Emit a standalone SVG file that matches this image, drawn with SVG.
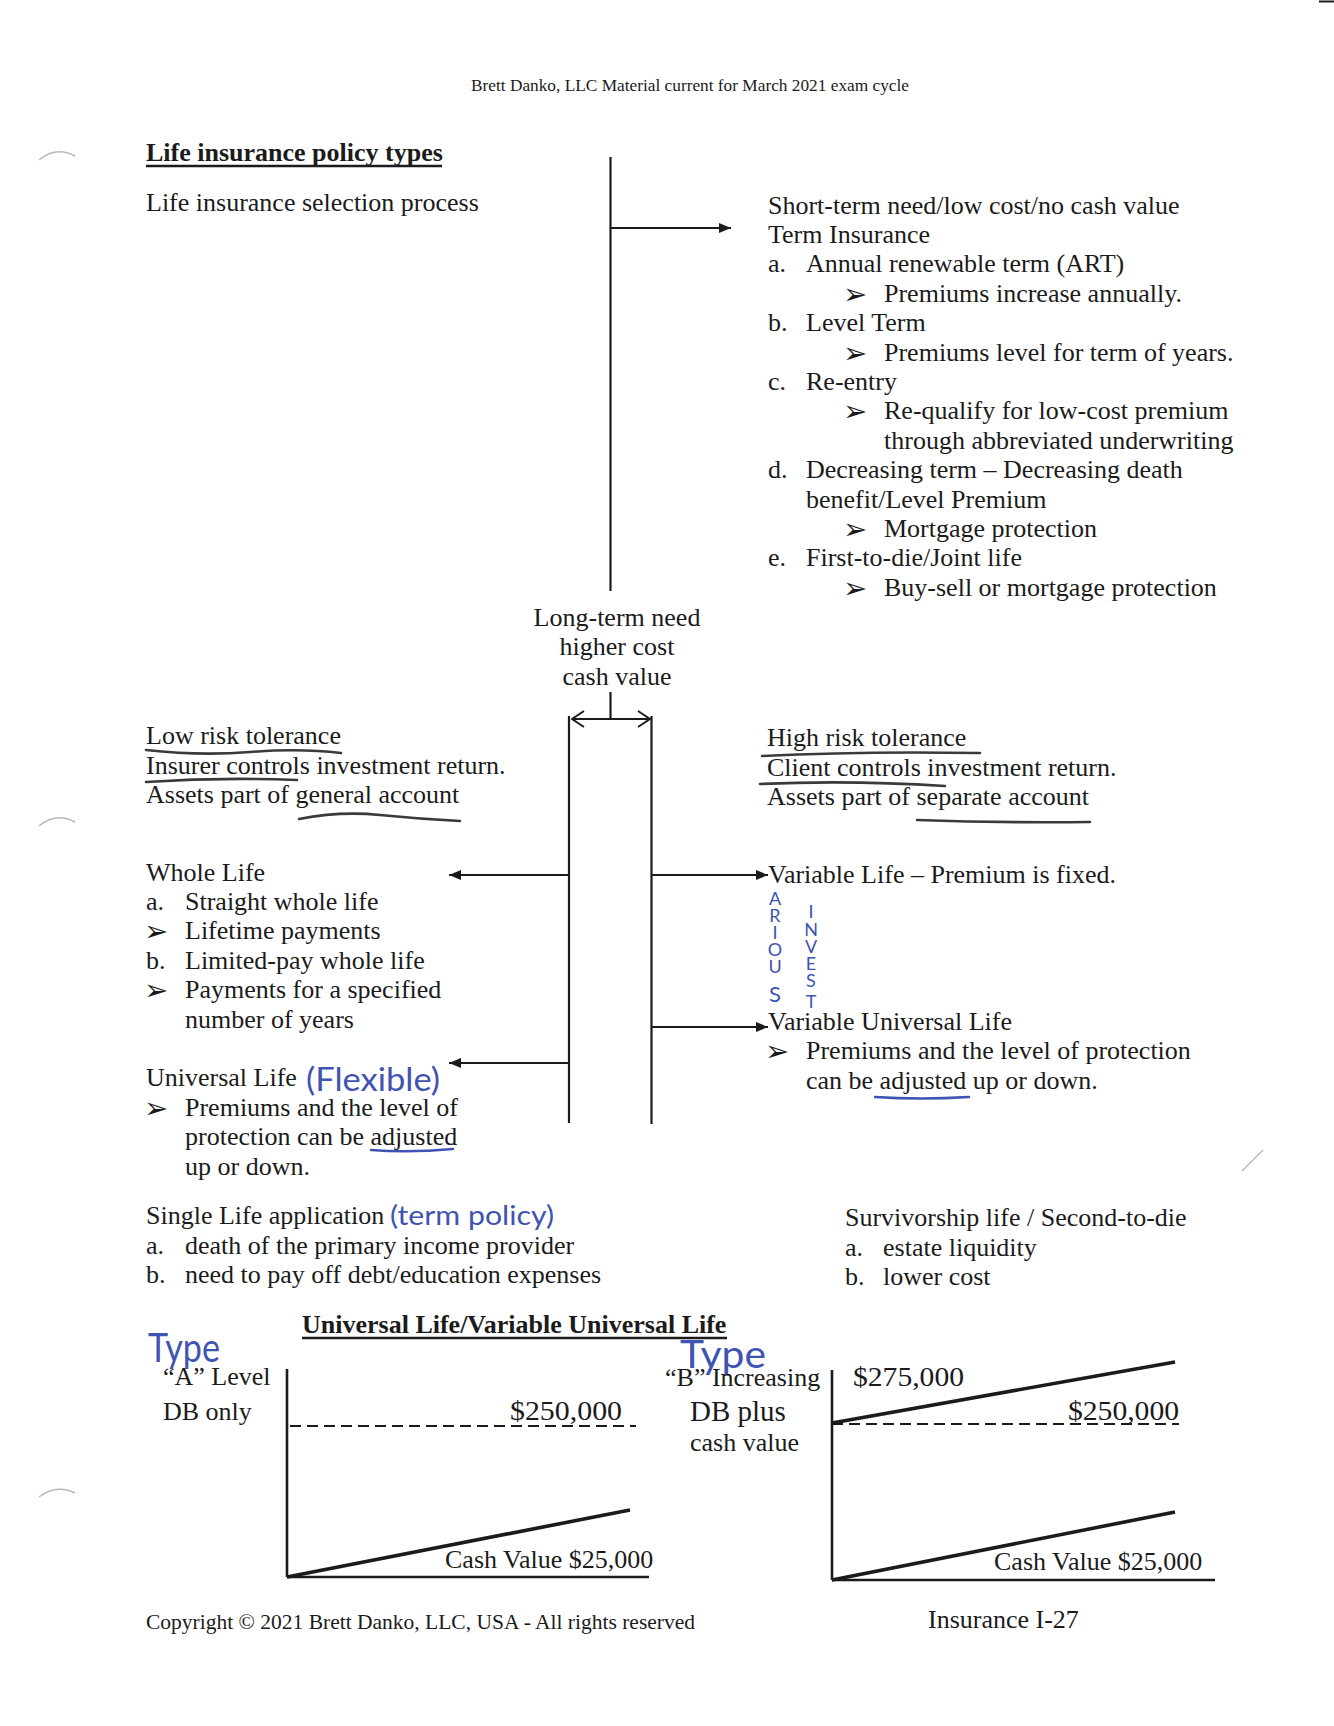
<svg xmlns="http://www.w3.org/2000/svg" width="1334" height="1726" viewBox="0 0 1334 1726">
<defs>
<style>
.t{font-family:"Liberation Serif","Times New Roman",serif;font-size:26px;fill:#1b1b1b}
.b{font-weight:bold}
.ar{font-family:"DejaVu Sans",sans-serif;font-size:29px;fill:#1b1b1b}
.hw{font-family:"Lato","DejaVu Sans",sans-serif;font-weight:400;fill:#3f53b3}
.ln{stroke:#1b1b1b;stroke-width:2.2;fill:none}
.ax{stroke:#1b1b1b;stroke-width:2.6;fill:none}
.dl{stroke:#1b1b1b;stroke-width:3.6;fill:none}
.ds{stroke:#1b1b1b;stroke-width:1.8;fill:none;stroke-dasharray:11 6}
.ul{stroke:#3a3a3a;stroke-width:2.6;fill:none;stroke-linecap:round}
.bu{stroke:#3f53b3;stroke-width:2.4;fill:none;stroke-linecap:round}
.mk{stroke:#b8b8b8;stroke-width:1.5;fill:none}
</style>
<marker id="tri" viewBox="0 0 12 10" refX="12" refY="5" markerWidth="12" markerHeight="10" markerUnits="userSpaceOnUse" orient="auto">
<path d="M0,0 L12,5 L0,10 z" fill="#1b1b1b"/>
</marker>
<marker id="chev" viewBox="0 0 14 18" refX="13" refY="9" markerWidth="14" markerHeight="18" markerUnits="userSpaceOnUse" orient="auto-start-reverse">
<path d="M1,1 L13,9 L1,17" fill="none" stroke="#1b1b1b" stroke-width="2"/>
</marker>
</defs>
<rect width="1334" height="1726" fill="#ffffff"/>

<g id="scan-marks">
<path class="mk" d="M39,160 Q56,146 75,156"/>
<path class="mk" d="M39,826 Q56,812 75,822"/>
<path class="mk" d="M39,1497 Q56,1484 75,1493"/>
<path class="mk" d="M1242,1171 L1263,1150"/>
<line x1="1319" y1="1.5" x2="1334" y2="1.5" stroke="#1b1b1b" stroke-width="2"/>
</g>

<g id="header">
<text class="t" x="471" y="91" style="font-size:16.5px" textLength="438" lengthAdjust="spacingAndGlyphs">Brett Danko, LLC Material current for March 2021 exam cycle</text>
</g>

<g id="title">
<text class="t b" x="146" y="161">Life insurance policy types</text>
<line x1="146" y1="166" x2="442" y2="166" stroke="#1b1b1b" stroke-width="2.4"/>
</g>

<g id="selection-process">
<text class="t" x="146" y="211">Life insurance selection process</text>
</g>

<g id="term-insurance">
<text class="t" x="768" y="213.5">Short-term need/low cost/no cash value</text>
<text class="t" x="768" y="243">Term Insurance</text>
<text class="t" x="768" y="272.3">a.</text><text class="t" x="806" y="272.3">Annual renewable term (ART)</text>
<text class="ar" x="843" y="303.7">➢</text><text class="t" x="884" y="301.7">Premiums increase annually.</text>
<text class="t" x="768" y="331">b.</text><text class="t" x="806" y="331">Level Term</text>
<text class="ar" x="843" y="362.5">➢</text><text class="t" x="884" y="360.5">Premiums level for term of years.</text>
<text class="t" x="768" y="389.9">c.</text><text class="t" x="806" y="389.9">Re-entry</text>
<text class="ar" x="843" y="421.3">➢</text><text class="t" x="884" y="419.3">Re-qualify for low-cost premium</text>
<text class="t" x="884" y="448.7">through abbreviated underwriting</text>
<text class="t" x="768" y="478.1">d.</text><text class="t" x="806" y="478.1">Decreasing term – Decreasing death</text>
<text class="t" x="806" y="507.5">benefit/Level Premium</text>
<text class="ar" x="843" y="538.9">➢</text><text class="t" x="884" y="536.9">Mortgage protection</text>
<text class="t" x="768" y="566.3">e.</text><text class="t" x="806" y="566.3">First-to-die/Joint life</text>
<text class="ar" x="843" y="597.7">➢</text><text class="t" x="884" y="595.7">Buy-sell or mortgage protection</text>
</g>

<g id="long-term">
<text class="t" x="617" y="626" text-anchor="middle">Long-term need</text>
<text class="t" x="617" y="655" text-anchor="middle">higher cost</text>
<text class="t" x="617" y="684.5" text-anchor="middle">cash value</text>
</g>

<g id="low-risk">
<text class="t" x="146" y="744">Low risk tolerance</text>
<text class="t" x="146" y="773.5">Insurer controls investment return.</text>
<text class="t" x="146" y="803">Assets part of general account</text>
<path class="ul" d="M146,750 Q200,756 250,752 T341,753"/>
<path class="ul" d="M146,782 Q220,777 297,780"/>
<path class="ul" d="M299,819 Q340,811 380,815 T460,821"/>
</g>

<g id="high-risk">
<text class="t" x="767" y="746">High risk tolerance</text>
<text class="t" x="767" y="775.5">Client controls investment return.</text>
<text class="t" x="767" y="805">Assets part of separate account</text>
<path class="ul" d="M762,756 Q860,751 980,753"/>
<path class="ul" d="M760,784 Q850,780 945,786"/>
<path class="ul" d="M917,820 Q1000,823 1090,822"/>
</g>

<g id="whole-life">
<text class="t" x="146" y="880.5">Whole Life</text>
<text class="t" x="146" y="910">a.</text><text class="t" x="185" y="910">Straight whole life</text>
<text class="ar" x="144" y="941.3">➢</text><text class="t" x="185" y="939.3">Lifetime payments</text>
<text class="t" x="146" y="968.6">b.</text><text class="t" x="185" y="968.6">Limited-pay whole life</text>
<text class="ar" x="144" y="1000">➢</text><text class="t" x="185" y="998">Payments for a specified</text>
<text class="t" x="185" y="1027.5">number of years</text>
</g>

<g id="universal-life">
<text class="t" x="146" y="1086">Universal Life</text>
<text class="hw" x="306" y="1091" style="font-size:33px" textLength="134" lengthAdjust="spacingAndGlyphs">(Flexible)</text>
<text class="ar" x="144" y="1117.5">➢</text><text class="t" x="185" y="1115.5">Premiums and the level of</text>
<text class="t" x="185" y="1145">protection can be adjusted</text>
<text class="t" x="185" y="1174.5">up or down.</text>
<path class="bu" d="M371,1150 Q410,1153 453,1149"/>
</g>

<g id="variable-life">
<text class="t" x="768" y="883">Variable Life – Premium is fixed.</text>
<g class="hw" style="font-size:18px" text-anchor="middle">
<text x="775" y="905">A</text>
<text x="775" y="922">R</text>
<text x="775" y="939">I</text>
<text x="775" y="956">O</text>
<text x="775" y="973">U</text>
<text x="775" y="1002" style="font-size:22px">S</text>
<text x="811" y="918">I</text>
<text x="811" y="936">N</text>
<text x="811" y="953">V</text>
<text x="811" y="970">E</text>
<text x="811" y="987">S</text>
<text x="811" y="1008">T</text>
</g>
</g>

<g id="variable-universal-life">
<text class="t" x="768" y="1029.5">Variable Universal Life</text>
<text class="ar" x="765" y="1061">➢</text><text class="t" x="806" y="1059">Premiums and the level of protection</text>
<text class="t" x="806" y="1088.5">can be adjusted up or down.</text>
<path class="bu" d="M875,1097 Q920,1100 969,1097"/>
</g>

<g id="single-life">
<text class="t" x="146" y="1224">Single Life application</text>
<text class="hw" x="390" y="1225" style="font-size:27px" textLength="164" lengthAdjust="spacingAndGlyphs">(term policy)</text>
<text class="t" x="146" y="1253.5">a.</text><text class="t" x="185" y="1253.5">death of the primary income provider</text>
<text class="t" x="146" y="1283">b.</text><text class="t" x="185" y="1283">need to pay off debt/education expenses</text>
</g>

<g id="survivorship">
<text class="t" x="845" y="1226">Survivorship life / Second-to-die</text>
<text class="t" x="845" y="1255.5">a.</text><text class="t" x="883" y="1255.5">estate liquidity</text>
<text class="t" x="845" y="1285">b.</text><text class="t" x="883" y="1285">lower cost</text>
</g>

<g id="ul-vul-title">
<text class="t b" x="302" y="1333">Universal Life/Variable Universal Life</text>
<line x1="302" y1="1338" x2="727" y2="1338" stroke="#1b1b1b" stroke-width="2.4"/>
</g>

<g id="chart-a">
<text class="hw" x="148" y="1362" style="font-size:40px" textLength="72" lengthAdjust="spacingAndGlyphs">Type</text>
<text class="t" x="163" y="1385">“A” Level</text>
<text class="t" x="163" y="1420">DB only</text>
<line class="ax" x1="287" y1="1369" x2="287" y2="1577"/>
<line class="ax" x1="287" y1="1577" x2="649" y2="1577"/>
<line class="ds" x1="290" y1="1426" x2="636" y2="1426"/>
<text class="t" x="510" y="1420" style="font-size:28px" textLength="112" lengthAdjust="spacingAndGlyphs">$250,000</text>
<line class="dl" x1="287" y1="1577" x2="630" y2="1510"/>
<text class="t" x="445" y="1568">Cash Value $25,000</text>
</g>

<g id="chart-b">
<text class="hw" x="680" y="1368" style="font-size:38px" textLength="86" lengthAdjust="spacingAndGlyphs">Type</text>
<text class="t" x="665" y="1386">“B” Increasing</text>
<text class="t" x="690" y="1421" style="font-size:29px">DB plus</text>
<text class="t" x="690" y="1451">cash value</text>
<line class="ax" x1="832" y1="1370" x2="832" y2="1580"/>
<line class="ax" x1="832" y1="1580" x2="1215" y2="1580"/>
<line class="ds" x1="832" y1="1424" x2="1179" y2="1424"/>
<text class="t" x="853" y="1386" style="font-size:28px" textLength="111" lengthAdjust="spacingAndGlyphs">$275,000</text>
<text class="t" x="1068" y="1420" style="font-size:28px" textLength="111" lengthAdjust="spacingAndGlyphs">$250,000</text>
<line class="dl" x1="832" y1="1423" x2="1175" y2="1362"/>
<line class="dl" x1="832" y1="1580" x2="1175" y2="1512"/>
<text class="t" x="994" y="1570">Cash Value $25,000</text>
</g>

<g id="footer">
<text class="t" x="146" y="1629" style="font-size:21.5px">Copyright © 2021 Brett Danko, LLC, USA - All rights reserved</text>
<text class="t" x="928" y="1628">Insurance I-27</text>
</g>

<g id="connectors">
<line class="ln" x1="610.5" y1="157" x2="610.5" y2="591"/>
<line class="ln" x1="610.5" y1="228" x2="731" y2="228" marker-end="url(#tri)"/>
<line class="ln" x1="610.5" y1="692" x2="610.5" y2="719"/>
<line class="ln" x1="572" y1="719" x2="650" y2="719" marker-start="url(#chev)" marker-end="url(#chev)"/>
<line class="ln" x1="569" y1="716" x2="569" y2="1123"/>
<line class="ln" x1="651.5" y1="716" x2="651.5" y2="1124"/>
<line class="ln" x1="569" y1="875" x2="449" y2="875" marker-end="url(#tri)"/>
<line class="ln" x1="569" y1="1063" x2="449" y2="1063" marker-end="url(#tri)"/>
<line class="ln" x1="651.5" y1="875" x2="768" y2="875" marker-end="url(#tri)"/>
<line class="ln" x1="651.5" y1="1027" x2="768" y2="1027" marker-end="url(#tri)"/>
</g>
</svg>
